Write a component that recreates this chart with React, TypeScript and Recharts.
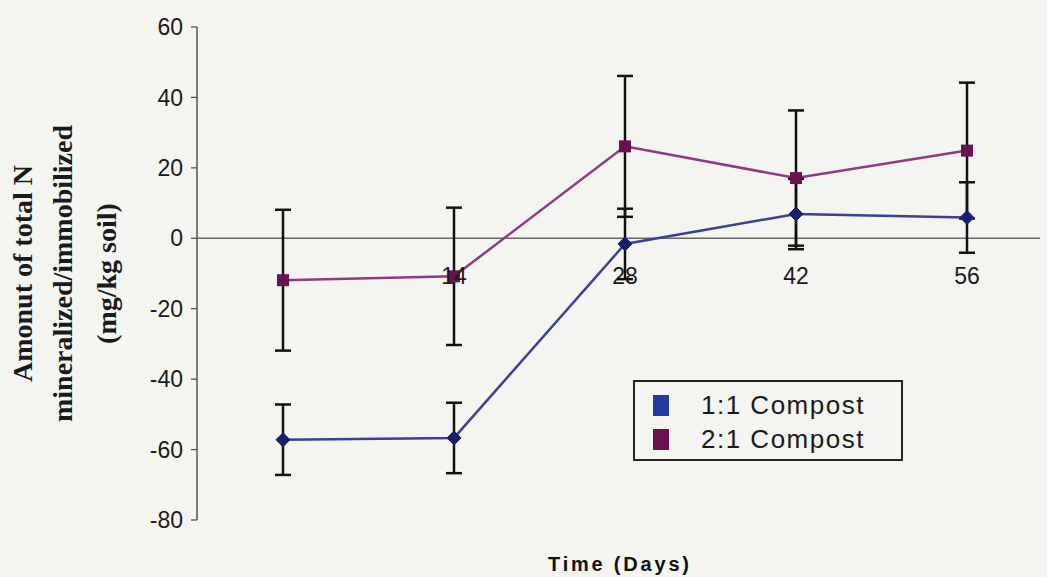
import React from "react";
import {
  LineChart,
  Line,
  XAxis,
  YAxis,
  ErrorBar,
  ReferenceLine,
  ReferenceDot,
  Legend,
  Label,
} from "recharts";

const days = ["0", "14", "28", "42", "56"];
const dayTickLabels = ["", "14", "28", "42", "56"];
const compost11 = [-57.2, -56.7, -1.6, 6.9, 5.9];
const compost11Err = [10, 10, 10, 10, 10];
const compost21 = [-11.9, -10.8, 26.1, 17.1, 24.9];
const compost21Err = [20, 19.5, 20, 19.2, 19.3];
const yTicks = [-80, -60, -40, -20, 0, 20, 40, 60];
const seriesNames = ["1:1 Compost", "2:1 Compost"];
const yTitleLines = [
  "Amonut of total N",
  "mineralized/immobilized",
  "(mg/kg soil)",
];
const xTitle = "Time (Days)";

const data = days.map((d, i) => ({
  day: d,
  c11: compost11[i],
  e11: compost11Err[i],
  c21: compost21[i],
  e21: compost21Err[i],
}));

const BLUE_LINE = "#3b3f98";
const BLUE_DOT = "#1b1e6c";
const MAG_LINE = "#8e3a80";
const MAG_DOT = "#6a1150";

const DiamondDot = (props: any) => {
  const { cx, cy } = props;
  if (cx == null || cy == null) return null;
  const s = 7;
  return (
    <polygon
      points={`${cx},${cy - s} ${cx + s},${cy} ${cx},${cy + s} ${cx - s},${cy}`}
      fill={BLUE_DOT}
      stroke={BLUE_DOT}
    />
  );
};

const SquareDot = (props: any) => {
  const { cx, cy } = props;
  if (cx == null || cy == null) return null;
  const s = 6;
  return (
    <rect x={cx - s} y={cy - s} width={2 * s} height={2 * s} fill={MAG_DOT} />
  );
};

const YTitle = (props: any) => {
  const vb = props.viewBox || { x: 0, y: 0, width: 0, height: 0 };
  const cy = vb.y + vb.height / 2;
  const xs = [vb.x + 22, vb.x + 62, vb.x + 106];
  return (
    <g>
      {yTitleLines.map((t, i) => (
        <text
          key={i}
          x={xs[i]}
          y={cy}
          transform={`rotate(-90, ${xs[i]}, ${cy})`}
          textAnchor="middle"
          dominantBaseline="central"
          fontFamily="'Liberation Serif', 'Times New Roman', serif"
          fontWeight="bold"
          fontSize={28}
          fill="#1a1a1a"
        >
          {t}
        </text>
      ))}
    </g>
  );
};

const LegendContent = () => {
  const colors = ["#1f3a9c", MAG_DOT];
  return (
    <div
      style={{
        boxSizing: "border-box",
        width: 270,
        height: 81,
        border: "2px solid #222",
        padding: "6px 0 0 18px",
        fontFamily: "'Liberation Sans', Arial, sans-serif",
        fontSize: 26,
        letterSpacing: 1.5,
        color: "#1a1a1a",
        lineHeight: "34px",
      }}
    >
      {seriesNames.map((n, i) => (
        <div key={n} style={{ display: "flex", alignItems: "center" }}>
          <span
            style={{
              display: "inline-block",
              width: 16,
              height: 21,
              background: colors[i],
              marginRight: 32,
            }}
          />
          <span>{n}</span>
        </div>
      ))}
    </div>
  );
};

export default function App() {
  return (
    <div
      style={{
        position: "absolute",
        left: 0,
        top: 0,
        width: 1047,
        height: 577,
        background: "#f4f4f0",
        overflow: "hidden",
      }}
    >
      <LineChart
        width={1047}
        height={577}
        data={data}
        margin={{ top: 27, right: 7, bottom: 57, left: 0 }}
      >
        <XAxis
          dataKey="day"
          hide
          padding={{ left: 86, right: 73 }}
        />
        <YAxis
          width={197}
          domain={[-80, 60]}
          ticks={yTicks}
          interval={0}
          tickSize={6}
          tickMargin={8}
          axisLine={{ stroke: "#555", strokeWidth: 1.5 }}
          tickLine={{ stroke: "#444", strokeWidth: 1.2 }}
          tick={{
            fontSize: 23,
            fill: "#1a1a1a",
            fontFamily: "'Liberation Sans', Arial, sans-serif",
          }}
        >
          <Label content={<YTitle />} />
        </YAxis>
        <ReferenceLine y={0} stroke="#666" strokeWidth={1.5} />
        {days.map((d, i) => (
          <ReferenceDot
            key={d}
            x={d}
            y={0}
            r={0}
            stroke="none"
            fill="none"
            label={{
              value: dayTickLabels[i],
              position: "bottom",
              offset: 29,
              fontSize: 23,
              fill: "#1a1a1a",
              fontFamily: "'Liberation Sans', Arial, sans-serif",
            }}
          />
        ))}
        <Line
          dataKey="c21"
          name={seriesNames[1]}
          stroke={MAG_LINE}
          strokeWidth={2.5}
          dot={<SquareDot />}
          activeDot={false}
          isAnimationActive={false}
        >
          <ErrorBar dataKey="e21" width={8} stroke="#111" strokeWidth={2.5} />
        </Line>
        <Line
          dataKey="c11"
          name={seriesNames[0]}
          stroke={BLUE_LINE}
          strokeWidth={2.5}
          dot={<DiamondDot />}
          activeDot={false}
          isAnimationActive={false}
        >
          <ErrorBar dataKey="e11" width={8} stroke="#111" strokeWidth={2.5} />
        </Line>
        <Legend
          layout="vertical"
          align="center"
          verticalAlign="middle"
          content={<LegendContent />}
          wrapperStyle={{ position: "absolute", left: 633, top: 380, width: 270, height: 81 }}
        />
      </LineChart>
      <div
        style={{
          position: "absolute",
          left: 548,
          top: 553,
          fontFamily: "'Liberation Sans', Arial, sans-serif",
          fontWeight: "bold",
          fontSize: 20,
          letterSpacing: 2.8,
          color: "#111",
          whiteSpace: "nowrap",
        }}
      >
        {xTitle}
      </div>
    </div>
  );
}
